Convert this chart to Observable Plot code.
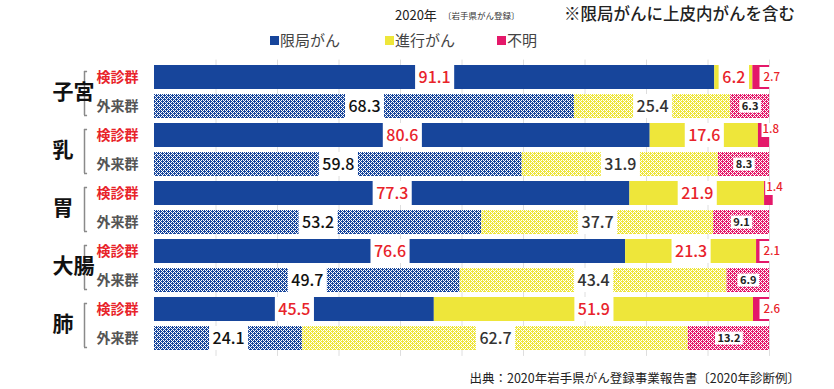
<!DOCTYPE html>
<html><head><meta charset="utf-8">
<script src="https://cdn.jsdelivr.net/npm/d3@7"></script>
<script src="https://cdn.jsdelivr.net/npm/@observablehq/plot@0.6"></script>
<style>
body{margin:0;background:#fff;font-family:"Noto Sans CJK JP","Noto Sans",sans-serif;}
#wrap{position:relative;width:834px;height:389px;overflow:hidden;}
#chart{position:absolute;left:0;top:0;}
.t{position:absolute;white-space:nowrap;line-height:1;color:#222;}
.sw{position:absolute;width:9px;height:9px;}
</style></head><body>
<div id="wrap">
  <div id="chart"></div>
  <div class="t" style="left:395px;top:8px;font-size:13px;">2020年</div>
  <div class="t" style="left:443px;top:11px;font-size:8.5px;color:#333;">〔岩手県がん登録〕</div>
  <div class="t" style="left:564px;top:5px;font-size:16.5px;font-weight:500;">※限局がんに上皮内がんを含む</div>
  <div id="legend"></div>
  <div class="t" style="right:34px;top:372px;font-size:12.5px;">出典：2020年岩手県がん登録事業報告書〔2020年診断例〕</div>
</div>
<script>
const organs = ["子宮", "乳", "胃", "大腸", "肺"];
const groups = ["検診群", "外来群"];
const categories = ["限局がん", "進行がん", "不明"];
// rows in order: 子宮検診, 子宮外来, 乳検診, 乳外来, ...
const localized = [91.1, 68.3, 80.6, 59.8, 77.3, 53.2, 76.6, 49.7, 45.5, 24.1];
const advanced  = [6.2, 25.4, 17.6, 31.9, 21.9, 37.7, 21.3, 43.4, 51.9, 62.7];
const unknown   = [2.7, 6.3, 1.8, 8.3, 1.4, 9.1, 2.1, 6.9, 2.6, 13.2];
const gridTicks = [10, 20, 30, 40, 50, 60, 70, 80, 90, 100];

const solid = {"限局がん": "#17459b", "進行がん": "#eee63a", "不明": "#e4196a"};
const patId = {"限局がん": "patB", "進行がん": "patY", "不明": "patP"};
const RED = "#e8232a";

const keys = [];
const rows = [];
organs.forEach((o, i) => groups.forEach((g, j) => {
  const k = i * 2 + j;
  const key = o + "|" + g;
  keys.push(key);
  const vals = [localized[k], advanced[k], unknown[k]];
  let c = 0;
  vals.forEach((v, m) => {
    rows.push({organ: o, group: g, key, cat: categories[m], value: v, start: c, end: c + v, mid: c + v / 2});
    c += v;
  });
}));

const digits = v => v.toFixed(1).length - 1;
const bigLabels = rows.filter(d => d.cat !== "不明");
const pinkOut = rows.filter(d => d.cat === "不明" && d.group === "外来群");
const pinkKen = rows.filter(d => d.cat === "不明" && d.group === "検診群" && d.value >= 2);
const pinkKenTiny = rows.filter(d => d.cat === "不明" && d.group === "検診群" && d.value < 2);

// legend
const legend = document.getElementById("legend");
const legPos = [270, 385, 497];
categories.forEach((c, i) => {
  const s = document.createElement("div");
  s.className = "sw"; s.style.left = legPos[i] + "px"; s.style.top = "36px"; s.style.background = solid[c];
  legend.appendChild(s);
  const t = document.createElement("div");
  t.className = "t"; t.style.left = (legPos[i] + 10) + "px"; t.style.top = "32px";
  t.style.fontSize = "15px"; t.style.color = "#444"; t.textContent = c;
  legend.appendChild(t);
});

const fillFn = d => d.group === "検診群" ? solid[d.cat] : `url(#${patId[d.cat]})`;

const plot = Plot.plot({
  width: 834, height: 389,
  marginTop: 59.6, marginBottom: 33.1, marginLeft: 154, marginRight: 65,
  x: {domain: [0, 100], axis: null},
  y: {domain: keys, axis: null, padding: 0.16},
  color: {type: "identity"},
  style: {fontFamily: '"Noto Sans CJK JP", sans-serif', background: "transparent"},
  marks: [
    Plot.ruleX(gridTicks, {stroke: "#dedede", strokeWidth: 1}),
    Plot.barX(rows, Plot.stackX({x: "value", y: "key", z: "cat", fill: fillFn})),
    // white label boxes
    Plot.tickX(bigLabels, {x: "mid", y: "key", stroke: "white", strokeWidth: d => digits(d.value) * 8.7 + 13}),
    Plot.tickX(pinkOut, {x: "mid", y: "key", stroke: "white", strokeWidth: d => digits(d.value) * 6.3 + 9, insetTop: 5.5, insetBottom: 5.5}),
    Plot.tickX(pinkKen, {x: "end", y: "key", dx: 8, stroke: "white", strokeWidth: 36, insetTop: 2, insetBottom: 2}),
    Plot.tickX(pinkKenTiny, {x: "end", y: "key", dx: 10, stroke: "white", strokeWidth: 36, insetTop: 0, insetBottom: 10}),
    // value labels
    Plot.text(bigLabels, {x: "mid", y: "key", text: d => d.value.toFixed(1), fontSize: 16, fontWeight: 500,
      fill: d => d.group === "検診群" ? RED : (d.cat === "限局がん" ? "#111" : "#333")}),
    Plot.text(pinkOut, {x: "mid", y: "key", text: d => d.value.toFixed(1), fontSize: 11, fontWeight: "bold", fill: "#222"}),
    Plot.text(pinkKen, {x: "end", y: "key", dx: -6, textAnchor: "start", text: d => d.value.toFixed(1), fontSize: 11.5, fontWeight: 500, fill: RED}),
    Plot.text(pinkKenTiny, {x: "end", y: "key", dx: -7, dy: -6, textAnchor: "start", text: d => d.value.toFixed(1), fontSize: 11.5, fontWeight: 500, fill: RED}),
    // row labels
    Plot.text(keys, {y: d => d, frameAnchor: "left", dx: -16, textAnchor: "end", text: d => d.split("|")[1],
      fontSize: 14, fontWeight: "bold", fill: d => d.endsWith("検診群") ? RED : "#555"}),
    // brackets
    Plot.ruleX(organs, {x: 0, y1: d => d + "|検診群", y2: d => d + "|外来群", dx: -70, insetTop: 6, insetBottom: 3, stroke: "#8a8a8a", strokeWidth: 1.5}),
    Plot.ruleY(organs, {y: d => d + "|検診群", x1: 0, x2: 0.5, dx: -70, dy: -6, stroke: "#8a8a8a", strokeWidth: 1.5}),
    Plot.ruleY(organs, {y: d => d + "|外来群", x1: 0, x2: 0.5, dx: -70, dy: 9, stroke: "#8a8a8a", strokeWidth: 1.5}),
    // organ labels
    Plot.text(organs, {y: d => d + "|検診群", frameAnchor: "left", dx: -102, dy: 14.6, text: d => d,
      fontSize: 21, fontWeight: "bold", fill: "#111"})
  ]
});

// dither patterns for 外来群
const mask = ["1010", "0111", "1010", "1101"];
const defs = d3.select(plot).insert("defs", ":first-child");
categories.forEach(c => {
  const p = defs.append("pattern").attr("id", patId[c]).attr("patternUnits", "userSpaceOnUse")
    .attr("width", 4).attr("height", 4);
  p.append("rect").attr("width", 4).attr("height", 4).attr("fill", "#fff");
  mask.forEach((row, y) => row.split("").forEach((b, x) => {
    if (b === "1") p.append("rect").attr("x", x).attr("y", y).attr("width", 1).attr("height", 1).attr("fill", solid[c]);
  }));
});

document.getElementById("chart").appendChild(plot);
</script>
</body></html>
